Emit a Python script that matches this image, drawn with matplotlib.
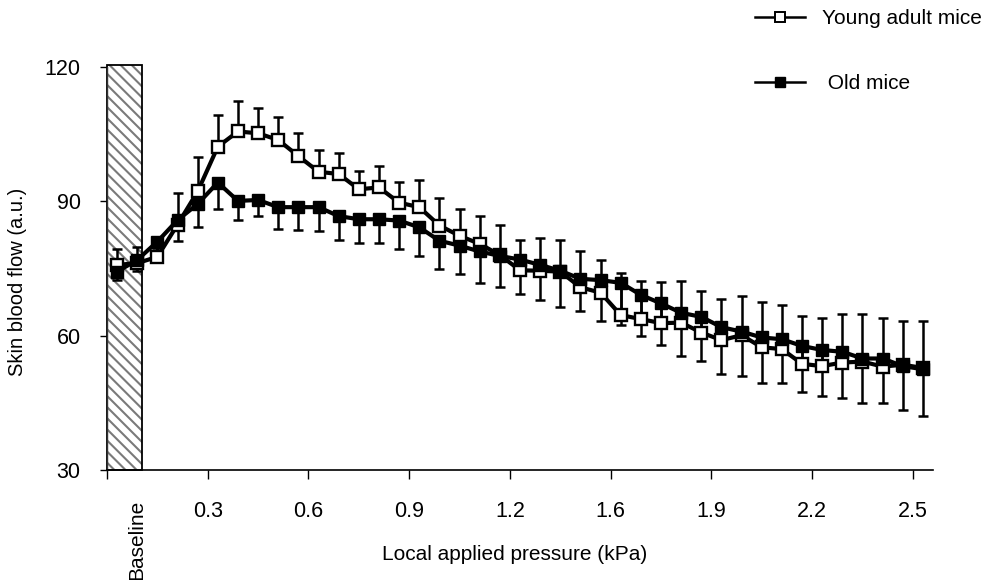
import matplotlib
matplotlib.use('Agg')
import matplotlib.pyplot as plt
from matplotlib.lines import Line2D
from matplotlib.patches import Rectangle
import numpy as np

plt.rcParams['font.family'] = ['Liberation Sans', 'DejaVu Sans']
plt.rcParams['hatch.linewidth'] = 1.5
plt.rcParams['hatch.color'] = '#7a7a7a'

# ---- data ----
tick_labels = ['0.3', '0.6', '0.9', '1.2', '1.6', '1.9', '2.2', '2.5']
series_names = ['Young adult mice', ' Old mice']

young = [75.8, 76.2, 77.6, 84.8, 92.2, 102.2, 105.6, 105.2, 103.7, 100.1,
         96.6, 96.1, 92.7, 93.1, 89.7, 88.7, 84.6, 82.3, 80.5, 78.0,
         74.6, 74.5, 74.3, 70.8, 69.6, 64.6, 63.7, 62.8, 62.9, 60.7,
         59.0, 60.1, 57.4, 57.0, 53.7, 53.2, 54.0, 54.2, 53.1, 53.5, 52.8]
young_sd = [3.5, 3.5, 2.0, 7.1, 7.6, 7.1, 6.7, 5.6, 5.1, 5.2,
            4.9, 4.6, 4.1, 4.8, 4.6, 6.1, 6.1, 5.9, 6.2, 6.7,
            6.8, 7.2, 7.1, 8.0, 7.3, 9.3, 8.6, 9.1, 9.4, 9.2,
            9.3, 8.8, 10.1, 9.9, 10.7, 10.7, 10.8, 10.6, 10.8, 9.8, 10.5]
old = [74.3, 76.9, 81.0, 85.8, 89.4, 94.2, 90.1, 90.3, 88.7, 88.7,
       88.7, 86.7, 86.0, 86.0, 85.7, 84.2, 81.2, 80.1, 78.8, 77.8,
       77.0, 75.8, 74.5, 72.7, 72.4, 71.8, 69.1, 67.2, 65.1, 64.2,
       61.9, 60.9, 59.6, 59.2, 57.7, 56.8, 56.4, 54.9, 54.9, 53.2, 52.5]
old_sd = [1.9, 2.4, 2.8, 4.6, 5.1, 5.9, 4.3, 3.5, 4.9, 5.2,
          5.3, 5.3, 5.2, 5.2, 6.3, 6.4, 6.3, 6.3, 7.0, 7.0,
          7.6, 7.8, 8.2, 7.3, 9.1, 9.4, 9.2, 9.3, 9.6, 9.8,
          10.5, 9.9, 10.1, 9.7, 10.2, 10.3, 10.4, 10.0, 10.0, 9.8, 10.4]

n = len(young)
x = np.arange(n)
zeros = np.zeros(n)

fig = plt.figure(figsize=(9.88, 5.8), dpi=100)
ax = fig.add_axes([107/988, 110/580, 826/988, 403/580])
ax.set_xlim(-0.5, n - 0.5)
ax.set_ylim(30, 120)

# baseline hatched band
bx0, bx1 = -0.5, 1.22
ax.add_patch(Rectangle((bx0, 30), bx1 - bx0, 90.4, facecolor='white',
                       edgecolor='#7a7a7a', hatch='\\\\\\', linewidth=0,
                       zorder=1, clip_on=False))
ax.add_patch(Rectangle((bx0, 30), bx1 - bx0, 90.4, fill=False,
                       edgecolor='black', linewidth=1.3, zorder=1.1,
                       clip_on=False))

eb_kw = dict(fmt='none', ecolor='black', elinewidth=1.8, capsize=3.8,
             capthick=1.8)
ax.errorbar(x, young, yerr=[zeros, young_sd], zorder=2, **eb_kw)
ax.errorbar(x, old, yerr=[old_sd, zeros], zorder=2.1, **eb_kw)
ax.plot(x, young, '-s', color='black', lw=3.0, ms=8.5, mfc='white',
        mec='black', mew=1.7, zorder=3)
ax.plot(x, old, '-s', color='black', lw=3.0, ms=8.5, mfc='black',
        mec='black', zorder=4)

for s in ['top', 'right']:
    ax.spines[s].set_visible(False)
ax.spines['left'].set_linewidth(1.0)
ax.spines['left'].set_color('#333333')
ax.spines['bottom'].set_linewidth(1.2)

ax.set_xticks(np.arange(-0.5, n - 1, 5))
ax.set_xticklabels([''] + tick_labels)
ax.set_yticks([30, 60, 90, 120])
ax.tick_params(axis='x', direction='out', length=6.5, width=1, pad=16,
               labelsize=15.5)
ax.tick_params(axis='y', direction='out', length=5, width=1, pad=14,
               labelsize=15.5)

ax.text(1.0, (470 - 500) / 403, 'Baseline', rotation=90, ha='center',
        va='top', fontsize=15, transform=ax.get_xaxis_transform())

fig.text(18/988, 1 - 282/580, 'Skin blood flow (a.u.)', rotation=90,
         ha='center', va='center', fontsize=14.5)
fig.text(515/988, 1 - 554/580, 'Local applied pressure (kPa)',
         ha='center', va='center', fontsize=15)

handles = [Line2D([], [], color='black', lw=1.8, marker='s', ms=7.5,
                  mfc='white', mec='black', mew=1.4),
           Line2D([], [], color='black', lw=1.8, marker='s', ms=7.5,
                  mfc='black', mec='black')]
fig.legend(handles, series_names, loc='upper left',
           bbox_to_anchor=(755/988, 1 - 9/580), frameon=False, fontsize=15,
           handlelength=2.4, handletextpad=0.8, labelspacing=2.2,
           borderpad=0, borderaxespad=0)

fig.savefig('out.png', dpi=100)
